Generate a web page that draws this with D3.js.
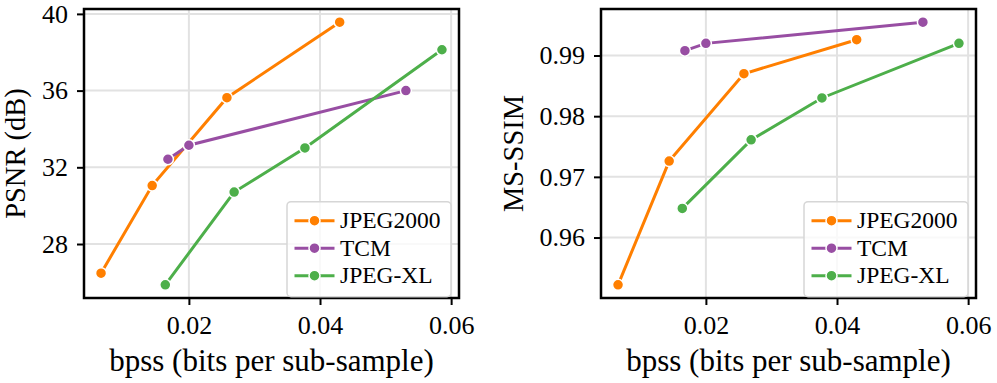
<!DOCTYPE html>
<html>
<head>
<meta charset="utf-8">
<script src="https://cdn.jsdelivr.net/npm/d3@7"></script>
<style>
    body { margin: 0; background: white; }
    text { font-family: "Liberation Serif", "Times New Roman", serif; }
</style>
</head>
<body>
<div id="chart"></div>
<script>
var series_names = ['JPEG2000', 'TCM', 'JPEG-XL'];
var series_colors = ['#ff7f00', '#984ea3', '#4daf4a'];

var jpeg2000_bpss = [0.0066, 0.0144, 0.0258, 0.0430];
var jpeg2000_psnr = [26.48, 31.05, 35.63, 39.57];
var jpeg2000_msssim = [0.9522, 0.9726, 0.9870, 0.9926];

var tcm_bpss = [0.0168, 0.0200, 0.0531];
var tcm_psnr = [32.42, 33.15, 36.00];
var tcm_msssim = [0.9908, 0.9920, 0.9955];

var jpegxl_bpss = [0.0164, 0.0269, 0.0377, 0.0586];
var jpegxl_psnr = [25.87, 30.71, 33.01, 38.13];
var jpegxl_msssim = [0.9648, 0.9761, 0.9830, 0.9920];

var x_ticks = [0.02, 0.04, 0.06];
var psnr_ticks = [28, 32, 36, 40];
var msssim_ticks = [0.96, 0.97, 0.98, 0.99];

var bpss_list = [jpeg2000_bpss, tcm_bpss, jpegxl_bpss];

// pad the data range by 5% like matplotlib does
function paddedExtent(arrays) {
    var all = [].concat.apply([], arrays);
    var ext = d3.extent(all);
    var pad = (ext[1] - ext[0]) * 0.05;
    return [ext[0] - pad, ext[1] + pad];
}

var svg = d3.select('#chart')
    .append('svg')
    .attr('width', 997)
    .attr('height', 383);

function makePanel(svg, options) {
    var left = options.left, right = options.right, top = 9, bottom = 298;

    var x = d3.scaleLinear()
        .domain(paddedExtent(bpss_list))
        .range([left, right]);
    var y = d3.scaleLinear()
        .domain(paddedExtent(options.values))
        .range([bottom, top]);

    var g = svg.append('g');

    // grid
    g.selectAll('.vgrid')
        .data(x_ticks)
        .enter().append('line')
        .attr('x1', function (d) { return x(d); })
        .attr('x2', function (d) { return x(d); })
        .attr('y1', top)
        .attr('y2', bottom)
        .style('stroke', '#e2e2e2')
        .style('stroke-width', 2);
    g.selectAll('.hgrid')
        .data(options.ticks)
        .enter().append('line')
        .attr('x1', left)
        .attr('x2', right)
        .attr('y1', function (d) { return y(d); })
        .attr('y2', function (d) { return y(d); })
        .style('stroke', '#e2e2e2')
        .style('stroke-width', 2);

    // axes
    var xAxis = g.append('g')
        .attr('transform', 'translate(0,' + bottom + ')')
        .call(d3.axisBottom(x).tickValues(x_ticks).tickSize(7).tickPadding(11)
            .tickFormat(d3.format('.2f')));
    var yAxis = g.append('g')
        .attr('transform', 'translate(' + left + ',0)')
        .call(d3.axisLeft(y).tickValues(options.ticks).tickSize(7).tickPadding(9)
            .tickFormat(options.fmt));
    [xAxis, yAxis].forEach(function (a) {
        a.attr('font-family', null);
        a.select('.domain').remove();
        a.selectAll('line').style('stroke', 'black').style('stroke-width', 2);
        a.selectAll('text')
            .style('font-family', '"Liberation Serif", "Times New Roman", serif')
            .style('font-size', '26px')
            .style('fill', 'black');
    });

    // spines
    g.append('rect')
        .attr('x', left)
        .attr('y', top)
        .attr('width', right - left)
        .attr('height', bottom - top)
        .style('fill', 'none')
        .style('stroke', 'black')
        .style('stroke-width', 2.5);

    // series
    var line = d3.line()
        .x(function (d) { return x(d[0]); })
        .y(function (d) { return y(d[1]); });

    options.values.forEach(function (vals, i) {
        var pts = bpss_list[i].map(function (b, j) { return [b, vals[j]]; });
        g.append('path')
            .datum(pts)
            .attr('d', line)
            .style('fill', 'none')
            .style('stroke', series_colors[i])
            .style('stroke-width', 3);
        g.selectAll('.pt' + i)
            .data(pts)
            .enter().append('circle')
            .attr('cx', function (d) { return x(d[0]); })
            .attr('cy', function (d) { return y(d[1]); })
            .attr('r', 5.5)
            .style('fill', series_colors[i])
            .style('stroke', 'white')
            .style('stroke-width', 1.5);
    });

    // labels
    g.append('text')
        .attr('x', (left + right) / 2)
        .attr('y', 371)
        .attr('text-anchor', 'middle')
        .style('font-size', '31px')
        .text('bpss (bits per sub-sample)');
    g.append('text')
        .attr('transform', 'translate(' + options.ylabel_x + ',' + (top + bottom) / 2 + ') rotate(-90)')
        .attr('text-anchor', 'middle')
        .style('font-size', '28.5px')
        .text(options.ylabel);

    // legend
    var lx = right - 172, ly = 201.7;
    var legend = g.append('g').attr('transform', 'translate(' + lx + ',' + ly + ')');
    legend.append('rect')
        .attr('width', 164)
        .attr('height', 95)
        .attr('rx', 4)
        .style('fill', 'white')
        .style('fill-opacity', 0.8)
        .style('stroke', '#d6d6d6')
        .style('stroke-width', 1.5);
    var item = legend.selectAll('.item')
        .data(series_names)
        .enter().append('g')
        .attr('transform', function (d, i) { return 'translate(0,' + (19 + i * 27.5) + ')'; });
    item.append('line')
        .attr('x1', 7.5)
        .attr('x2', 47.5)
        .style('stroke', function (d, i) { return series_colors[i]; })
        .style('stroke-width', 3);
    item.append('circle')
        .attr('cx', 27.5)
        .attr('r', 5.5)
        .style('fill', function (d, i) { return series_colors[i]; })
        .style('stroke', 'white')
        .style('stroke-width', 1.5);
    item.append('text')
        .attr('x', 53)
        .attr('dy', '0.33em')
        .style('font-size', '23.5px')
        .text(function (d) { return d; });
}

makePanel(svg, {
    left: 84, right: 459,
    values: [jpeg2000_psnr, tcm_psnr, jpegxl_psnr],
    ticks: psnr_ticks,
    fmt: d3.format('d'),
    ylabel: 'PSNR (dB)',
    ylabel_x: 25
});

makePanel(svg, {
    left: 601, right: 976,
    values: [jpeg2000_msssim, tcm_msssim, jpegxl_msssim],
    ticks: msssim_ticks,
    fmt: d3.format('.2f'),
    ylabel: 'MS-SSIM',
    ylabel_x: 523
});
</script>
</body>
</html>
